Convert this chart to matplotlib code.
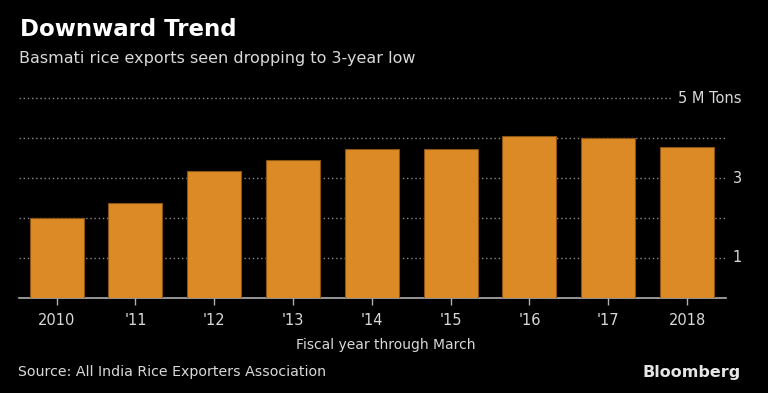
import matplotlib.pyplot as plt

years = ['2010', "'11", "'12", "'13", "'14", "'15", "'16", "'17", '2018']
exports = [2.01, 2.37, 3.18, 3.46, 3.74, 3.72, 4.06, 4.01, 3.79]
yticks = [1, 3, 5]
ytick_labels = ['1', '3', '5 M Tons']

bg = 'black'
orange = '#dc8a26'
grid_col = '#8a8a8a'
text_col = '#d9d9d9'

fig = plt.figure(figsize=(7.68, 3.93), dpi=100, facecolor=bg)
ax = fig.add_axes([19 / 768, 1 - 297.7 / 393, (725.7 - 19) / 768, (297.7 - 98.3) / 393])
ax.set_facecolor(bg)

x = list(range(len(years)))
ax.bar(x, exports, width=0.685, color=orange, edgecolor='#8a5512', linewidth=0.8, zorder=3)

ax.set_xlim(-0.478, 8.49)
ax.set_ylim(0, 5)

# dotted gridlines, the top one stops short of the unit label
for v in [1, 2, 3, 4]:
    ax.axhline(v, color=grid_col, linestyle=(0, (1, 2)), linewidth=1, zorder=1)
ax.plot([-0.478, (672 - 56.7) / 78.8], [5, 5], color=grid_col,
        linestyle=(0, (1, 2)), linewidth=1, zorder=1, clip_on=False)

for s in ['top', 'left', 'right']:
    ax.spines[s].set_visible(False)
ax.spines['bottom'].set_color('#b0b0b0')
ax.spines['bottom'].set_linewidth(1.2)

ax.set_xticks(x)
ax.set_xticklabels(years)
ax.tick_params(axis='x', colors='#b0b0b0', length=5, width=1, pad=6)
for lab in ax.get_xticklabels():
    lab.set_color(text_col)
    lab.set_fontsize(10.5)
    lab.set_family('DejaVu Sans Condensed')

ax.yaxis.tick_right()
ax.set_yticks(yticks)
ax.set_yticklabels([])
ax.tick_params(axis='y', length=0)
for v, t in zip(yticks, ytick_labels):
    ax.text(742, ax.transData.transform((0, v))[1], t, transform=None,
            ha='right', va='center', color=text_col, fontsize=10.5,
            family='DejaVu Sans Condensed')

fig.text(20 / 768, 1 - 30 / 393, 'Downward Trend', color='white', fontsize=16.5,
         fontweight='bold', va='center', ha='left')
fig.text(19 / 768, 1 - 59 / 393, 'Basmati rice exports seen dropping to 3-year low',
         color=text_col, fontsize=11.5, va='center', ha='left')
fig.text(386 / 768, 1 - 345 / 393, 'Fiscal year through March', color=text_col,
         fontsize=10, family='DejaVu Sans Condensed', va='center', ha='center')
fig.text(18 / 768, 1 - 372 / 393, 'Source: All India Rice Exporters Association',
         color=text_col, fontsize=10.2, family='DejaVu Sans Condensed', va='center', ha='left')
fig.text(741 / 768, 1 - 373 / 393, 'Bloomberg', color='#e6e6e6', fontsize=11.5,
         fontweight='bold', family='Liberation Sans Narrow', va='center', ha='right')

fig.savefig('out.png', dpi=100, facecolor=bg)
